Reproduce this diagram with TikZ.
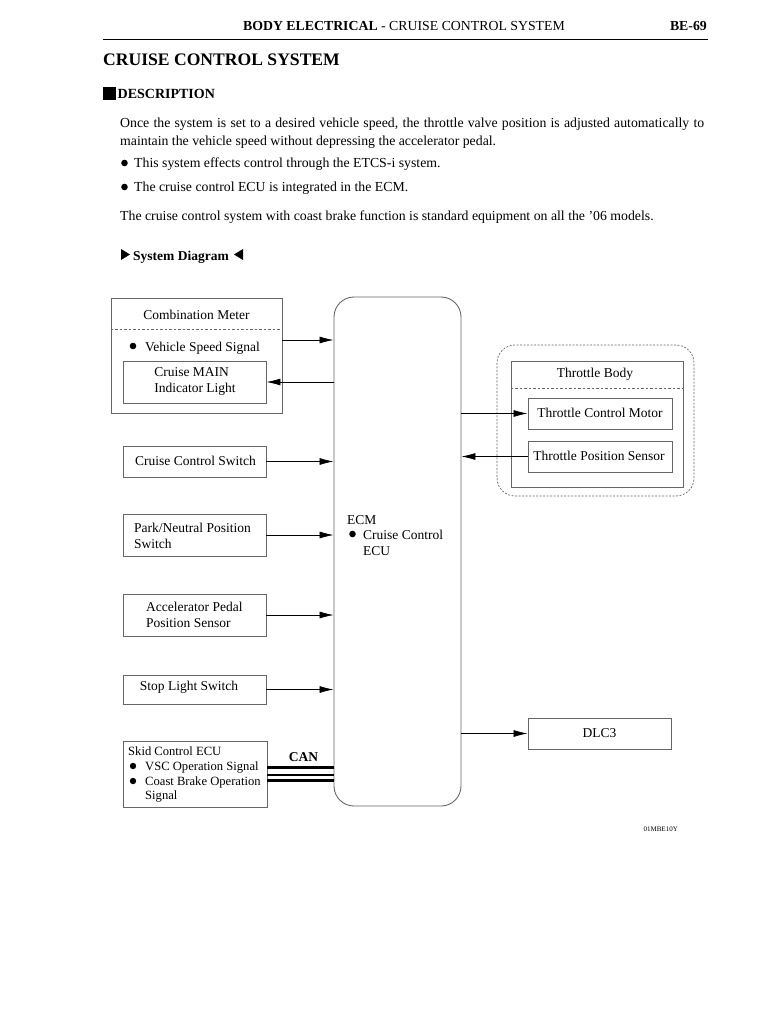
\documentclass[tikz,border=0pt]{standalone}
\usepackage{fontspec}
\setmainfont{Liberation Serif}
\usetikzlibrary{arrows.meta,calc}
\begin{document}
\begin{tikzpicture}[x=1pt,y=-1pt,
  font=\fontsize{13.5}{16}\selectfont,
  box/.style={draw=black!60, line width=0.9pt, inner sep=0pt, rectangle},
  arr/.style={-{Latex[length=14pt,width=7pt]}, line width=0.7pt},
  txt/.style={inner sep=0pt, anchor=base west},
  ctxt/.style={inner sep=0pt, anchor=base},
  body/.style={inner sep=0pt, anchor=base west, font=\fontsize{13.8}{16}\selectfont},
  bul/.style={fill=black}]
\useasboundingbox (0,0) rectangle (768,1024);
% header
\node[ctxt, font=\fontsize{13.8}{16}\selectfont] (hdr) at (404,31) {\textbf{BODY ELECTRICAL} - CRUISE CONTROL SYSTEM};
\node[inner sep=0pt, anchor=base east, font=\fontsize{13.8}{16}\selectfont] (pg) at (707,31) {\textbf{BE-69}};
\draw[line width=1pt] (103,40) -- (708,40);
\node[txt] (title) at (103,66) {\fontsize{17.6}{20}\selectfont\bfseries CRUISE CONTROL SYSTEM};
\fill (103,87) rectangle (116,100);
\node[txt] (desc) at (117.5,99) {\fontsize{14}{16}\selectfont\bfseries DESCRIPTION};
\node[body] (p1) at (120,128) {\makebox[584pt][s]{Once the system is set to a desired vehicle speed, the throttle valve position is adjusted automatically to}};
\node[body] (p2) at (120,146) {maintain the vehicle speed without depressing the accelerator pedal.};
\fill[bul] (124.5,163) circle (3.3);
\node[body] (b1) at (134,168) {This system effects control through the ETCS-i system.};
\fill[bul] (124.5,187) circle (3.3);
\node[body] (b2) at (134,192) {The cruise control ECU is integrated in the ECM.};
\node[body] (p3) at (120,221) {The cruise control system with coast brake function is standard equipment on all the '06 models.};
\fill (121,249) -- (130,254.5) -- (121,260) -- cycle;
\node[txt] (sd) at (133,260) {\bfseries System Diagram};
\fill (243,249) -- (234,254.5) -- (243,260) -- cycle;
% ECM
\node[box, rounded corners=20pt, minimum width=127, minimum height=509] (ecm) at (397.5,551.5) {};
\node[txt] (ecmt) at (347,524) {ECM};
\fill[bul] (352.5,534) circle (3.3);
\node[txt, align=left] (ecmu) at (363,539) {Cruise Control};
\node[txt] (ecmu2) at (363,555) {ECU};
% combination meter
\node[box, minimum width=171, minimum height=115] (cm) at (196.5,355.5) {};
\draw[black!60, dashed, line width=0.7pt, dash pattern=on 2.5pt off 2pt] ([yshift=-32pt]cm.north west) -- ([yshift=-32pt]cm.north east);
\node[inner sep=0pt] (cmt) at (196.5,315) {Combination Meter};
\fill[bul] (133,346) circle (3.3);
\node[txt] (vss) at (145,351) {Vehicle Speed Signal};
\node[box, minimum width=143, minimum height=42] (cmi) at (194.5,382) {};
\node[inner sep=0pt, align=left, font=\fontsize{13.5}{16}\selectfont] (cmit) at (195,381.5) {Cruise MAIN\\Indicator Light};
% left boxes
\node[box, minimum width=143, minimum height=31] (ccs) at (194.5,461.5) {};
\node[inner sep=0pt] (ccst) at (195.5,461) {Cruise Control Switch};
\node[box, minimum width=143, minimum height=42] (pns) at (194.5,535) {};
\node[txt] (pnst) at (134,532) {Park/Neutral Position};
\node[txt] (pnst2) at (134,548) {Switch};
\node[box, minimum width=143, minimum height=42] (aps) at (194.5,615) {};
\node[txt] (apst) at (146,611) {Accelerator Pedal};
\node[txt] (apst2) at (146,627) {Position Sensor};
\node[box, minimum width=143, minimum height=29] (sls) at (194.5,689.5) {};
\node[inner sep=0pt] (slst) at (189,687.5) {Stop Light Switch};
\node[box, minimum width=144, minimum height=66] (skid) at (195,774) {};
\begin{scope}[font=\fontsize{12.6}{15}\selectfont]
\node[txt] (sk1) at (128,755.5) {Skid Control ECU};
\fill[bul] (133,766) circle (3.2);
\node[txt] (sk2) at (145,770.5) {VSC Operation Signal};
\fill[bul] (133,781) circle (3.2);
\node[txt] (sk3) at (145,785.5) {Coast Brake Operation};
\node[txt] (sk4) at (145,799.5) {Signal};
\end{scope}
\node[ctxt] (can) at (303.5,761) {\bfseries CAN};
% CAN bus lines
\draw[line width=3pt] ([yshift=-6pt]skid.east) -- ([yshift=-6pt]skid.east -| ecm.west);
\draw[line width=1.5pt] ([yshift=-1pt]skid.east) -- ([yshift=-1pt]skid.east -| ecm.west);
\draw[line width=3.4pt] ([yshift=6.5pt]skid.east) -- ([yshift=6.5pt]skid.east -| ecm.west);
% left arrows
\draw[arr] ([yshift=15.5pt]cm.east) -- ([yshift=15.5pt]cm.east -| ecm.west);
\draw[arr] (cmi.east -| ecm.west) -- (cmi.east);
\draw[arr] (ccs.east) -- (ccs.east -| ecm.west);
\draw[arr] (pns.east) -- (pns.east -| ecm.west);
\draw[arr] (aps.east) -- (aps.east -| ecm.west);
\draw[arr] (sls.east) -- (sls.east -| ecm.west);
% throttle body
\node[draw=black!60, dashed, dash pattern=on 2pt off 1.5pt, line width=0.7pt, rounded corners=18pt, minimum width=197, minimum height=151, inner sep=0pt] (tbg) at (595.5,420.5) {};
\node[box, minimum width=172, minimum height=126] (tb) at (597,424) {};
\draw[black!60, dashed, line width=0.7pt, dash pattern=on 2.5pt off 2pt] ([yshift=-28pt]tb.north west) -- ([yshift=-28pt]tb.north east);
\node[inner sep=0pt] (tbt) at (595,374) {Throttle Body};
\node[box, minimum width=144, minimum height=31] (tcm) at (600,413.5) {};
\node[inner sep=0pt] (tcmt) at (600,413) {Throttle Control Motor};
\node[box, minimum width=144, minimum height=31] (tps) at (600,456.5) {};
\node[inner sep=0pt] (tpst) at (599,456) {Throttle Position Sensor};
\draw[arr] (tcm.west -| ecm.east) -- (tcm.west);
\draw[arr] (tps.west) -- (tps.west -| ecm.east);
% DLC3
\node[box, minimum width=143, minimum height=31] (dlc) at (599.5,733.5) {};
\node[inner sep=0pt] (dlct) at (599.5,733) {DLC3};
\draw[arr] (dlc.west -| ecm.east) -- (dlc.west);
\node[inner sep=0pt, anchor=base east, font=\fontsize{7}{8}\selectfont] (code) at (678,831) {01MBE10Y};
\end{tikzpicture}
\end{document}
